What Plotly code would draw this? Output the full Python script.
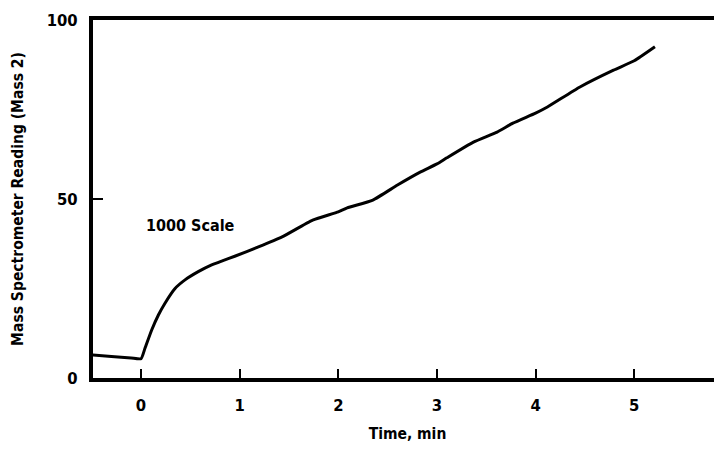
import plotly.graph_objects as go

time_min = [-0.49, -0.3, -0.1, 0.0, 0.04, 0.108, 0.176, 0.243, 0.345, 0.446, 0.58, 0.716, 0.83,
            0.95, 1.19, 1.43, 1.74, 2.0, 2.09, 2.35, 2.60, 2.83, 3.0, 3.10, 3.37, 3.61, 3.77,
            4.0, 4.12, 4.45, 4.79, 5.0, 5.21]
reading = [6.4, 6.0, 5.6, 5.4, 8.3, 13.4, 17.6, 20.9, 25.0, 27.4, 29.7, 31.6, 32.8,
           34.0, 36.6, 39.4, 44.1, 46.4, 47.5, 49.7, 53.9, 57.5, 59.8, 61.5, 65.9, 68.7, 71.2,
           74.0, 75.7, 81.3, 86.0, 88.6, 92.5]

x_ticks = [0, 1, 2, 3, 4, 5]
y_ticks = [0, 50, 100]

FONT = "DejaVu Sans Condensed, Liberation Sans Narrow, DejaVu Sans"

fig = go.Figure()
fig.add_trace(go.Scatter(x=time_min, y=reading, mode="lines",
                         line=dict(color="black", width=3, shape="spline", smoothing=0.5),
                         showlegend=False, hoverinfo="skip"))

fig.add_annotation(x=0.5, y=42.7, text="<b>1000 Scale</b>", showarrow=False,
                   font=dict(family=FONT, size=16, color="black"))

fig.update_layout(
    width=714, height=443,
    margin=dict(l=85, r=0, t=12, b=73),
    paper_bgcolor="white", plot_bgcolor="white",
    font=dict(family=FONT, size=16, color="black"),
    xaxis=dict(range=[-0.487, 5.89], tickvals=x_ticks, ticktext=[f"<b>{v}</b>" for v in x_ticks],
               ticks="inside", ticklen=9, tickwidth=2, tickcolor="black",
               showline=True, linecolor="black", linewidth=4, mirror=True,
               showgrid=False, zeroline=False, ticklabelstandoff=9, automargin=False,
               tickfont=dict(family=FONT, size=16.5, color="black"),
               title=dict(text="<b>Time, min</b>", standoff=15,
                          font=dict(family=FONT, size=15.5, color="black"))),
    yaxis=dict(range=[0, 100], tickvals=y_ticks, ticktext=[f"<b>{v}</b>" for v in y_ticks],
               ticks="inside", ticklen=10, tickwidth=2, tickcolor="black",
               showline=True, linecolor="black", linewidth=4, mirror=False,
               showgrid=False, zeroline=False, ticklabelstandoff=8, automargin=False,
               tickfont=dict(family=FONT, size=16.5, color="black"),
               title=dict(text="<b>Mass Spectrometer Reading (Mass 2)</b>", standoff=20,
                          font=dict(family=FONT, size=15.5, color="black"))),
)

fig.write_html("out.html")
